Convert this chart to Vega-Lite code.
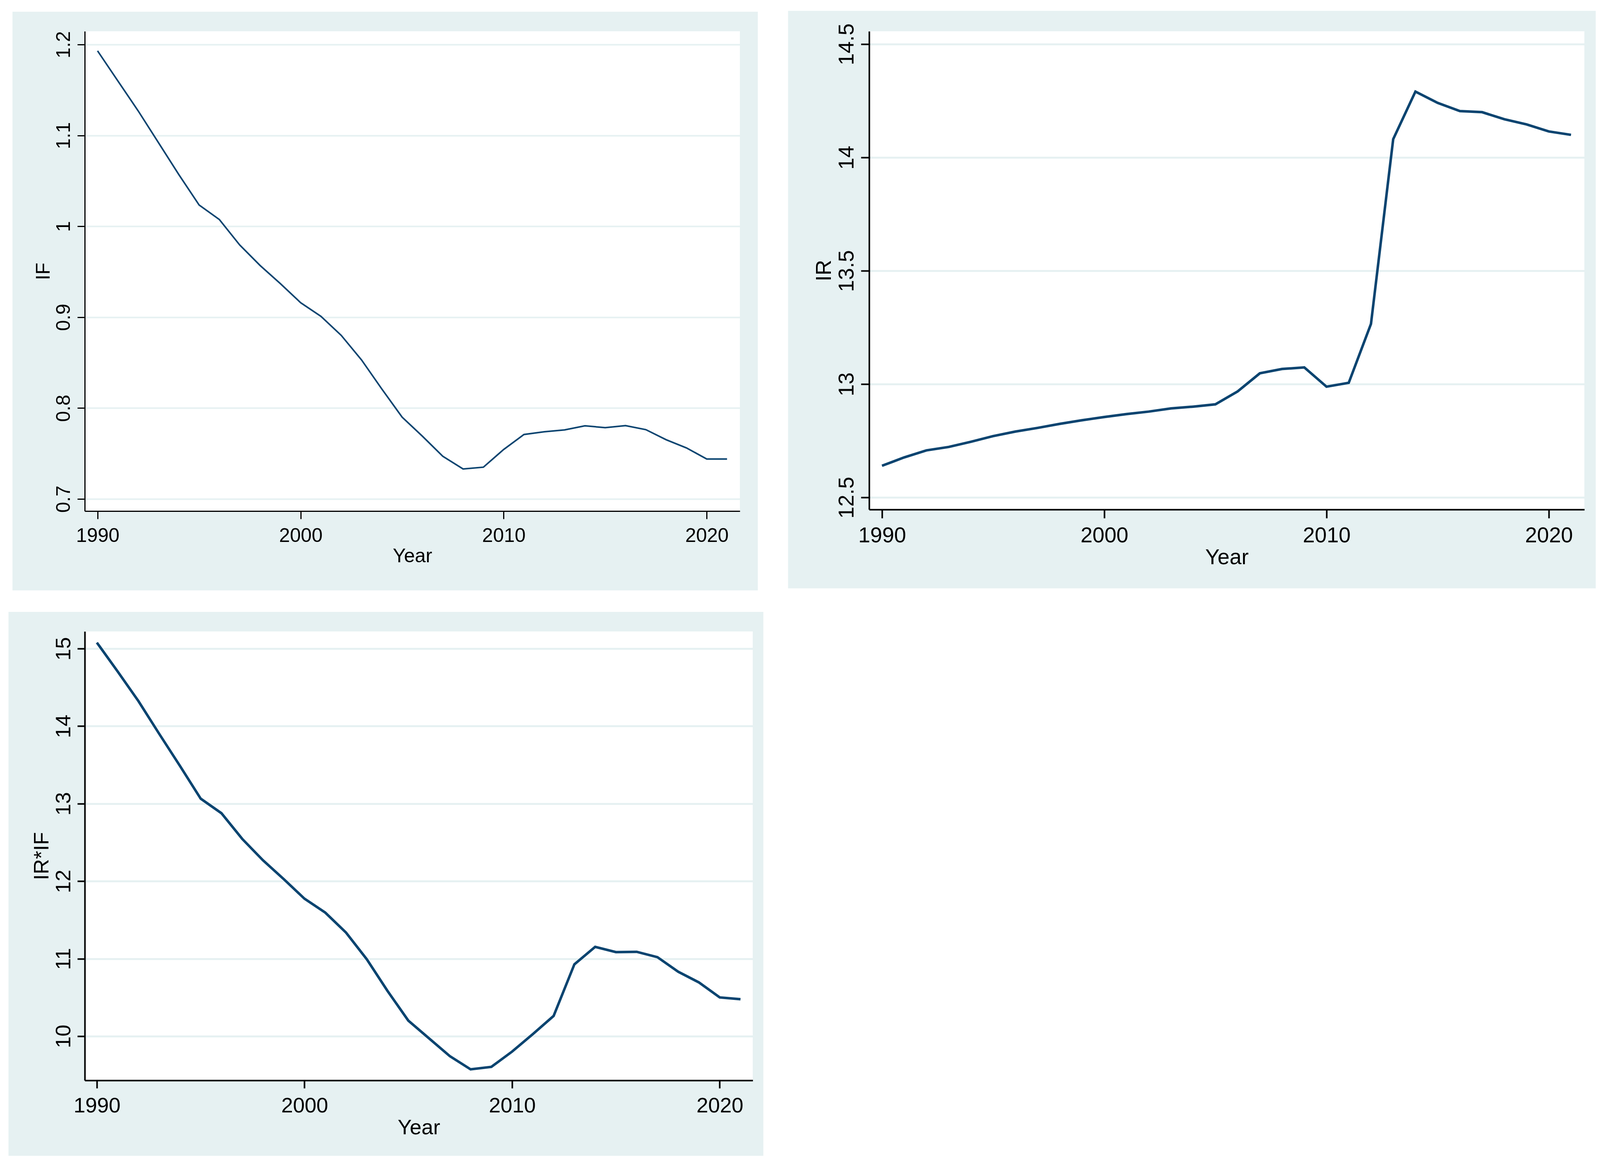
{
  "$schema": "https://vega.github.io/schema/vega-lite/v6.json",
  "background": "white",
  "padding": {"left": 21, "top": 27, "right": 0, "bottom": 0},
  "config": {"view": {"stroke": null}, "font": "Liberation Sans"},
  "data": {"values": [
    {"Year": 1990, "IF": 1.193, "IR": 12.640, "IRxIF": 15.078},
    {"Year": 1991, "IF": 1.160, "IR": 12.677, "IRxIF": 14.706},
    {"Year": 1992, "IF": 1.127, "IR": 12.708, "IRxIF": 14.324},
    {"Year": 1993, "IF": 1.092, "IR": 12.723, "IRxIF": 13.902},
    {"Year": 1994, "IF": 1.057, "IR": 12.746, "IRxIF": 13.488},
    {"Year": 1995, "IF": 1.0235, "IR": 12.771, "IRxIF": 13.065},
    {"Year": 1996, "IF": 1.0074, "IR": 12.791, "IRxIF": 12.877},
    {"Year": 1997, "IF": 0.9795, "IR": 12.807, "IRxIF": 12.546},
    {"Year": 1998, "IF": 0.957, "IR": 12.825, "IRxIF": 12.270},
    {"Year": 1999, "IF": 0.937, "IR": 12.841, "IRxIF": 12.027},
    {"Year": 2000, "IF": 0.916, "IR": 12.855, "IRxIF": 11.774},
    {"Year": 2001, "IF": 0.901, "IR": 12.868, "IRxIF": 11.595},
    {"Year": 2002, "IF": 0.880, "IR": 12.879, "IRxIF": 11.337},
    {"Year": 2003, "IF": 0.853, "IR": 12.893, "IRxIF": 10.993},
    {"Year": 2004, "IF": 0.821, "IR": 12.901, "IRxIF": 10.584},
    {"Year": 2005, "IF": 0.790, "IR": 12.911, "IRxIF": 10.202},
    {"Year": 2006, "IF": 0.769, "IR": 12.968, "IRxIF": 9.972},
    {"Year": 2007, "IF": 0.747, "IR": 13.048, "IRxIF": 9.743},
    {"Year": 2008, "IF": 0.733, "IR": 13.067, "IRxIF": 9.573},
    {"Year": 2009, "IF": 0.735, "IR": 13.074, "IRxIF": 9.605},
    {"Year": 2010, "IF": 0.7545, "IR": 12.989, "IRxIF": 9.802},
    {"Year": 2011, "IF": 0.771, "IR": 13.006, "IRxIF": 10.028},
    {"Year": 2012, "IF": 0.774, "IR": 13.266, "IRxIF": 10.262},
    {"Year": 2013, "IF": 0.776, "IR": 14.081, "IRxIF": 10.928},
    {"Year": 2014, "IF": 0.7805, "IR": 14.291, "IRxIF": 11.153},
    {"Year": 2015, "IF": 0.7785, "IR": 14.241, "IRxIF": 11.085},
    {"Year": 2016, "IF": 0.7807, "IR": 14.205, "IRxIF": 11.089},
    {"Year": 2017, "IF": 0.7763, "IR": 14.200, "IRxIF": 11.020},
    {"Year": 2018, "IF": 0.7652, "IR": 14.169, "IRxIF": 10.832},
    {"Year": 2019, "IF": 0.7562, "IR": 14.146, "IRxIF": 10.694},
    {"Year": 2020, "IF": 0.744, "IR": 14.115, "IRxIF": 10.501},
    {"Year": 2021, "IF": 0.744, "IR": 14.100, "IRxIF": 10.478}
  ]},
  "spacing": 54,
  "align": "none",
  "vconcat": [
    {
      "spacing": 76,
      "hconcat": [
        {
          "width": 1677, "height": 1228,
          "resolve": {"axis": {"x": "independent", "y": "independent"}},
          "layer": [
            {"data": {"values": [{}]}, "mark": {"type": "rect", "color": "#E6F1F2"},
             "encoding": {
               "x": {"datum": 1985.81, "type": "quantitative", "scale": {"domain": [1989.37, 2021.63], "nice": false, "zero": false}, "axis": null},
               "x2": {"datum": 1989.37},
               "y": {"datum": 0.5994, "type": "quantitative", "scale": {"domain": [0.6867, 1.2146], "nice": false, "zero": false},
                     "axis": {"orient": "left", "values": [0.7, 0.8, 0.9, 1, 1.1, 1.2], "grid": true, "gridColor": "#E6F1F2", "gridWidth": 4, "labels": false, "ticks": false, "domain": false, "title": null, "zindex": 0}},
               "y2": {"datum": 1.2361}}},
            {"data": {"values": [{}]}, "mark": {"type": "rect", "color": "#E6F1F2"},
             "encoding": {
               "x": {"datum": 2021.63, "type": "quantitative", "scale": {"domain": [1989.37, 2021.63], "nice": false, "zero": false}, "axis": null},
               "x2": {"datum": 2022.515},
               "y": {"datum": 0.5994, "type": "quantitative", "scale": {"domain": [0.6867, 1.2146], "nice": false, "zero": false}, "axis": null},
               "y2": {"datum": 1.2361}}},
            {"data": {"values": [{}]}, "mark": {"type": "rect", "color": "#E6F1F2"},
             "encoding": {
               "x": {"datum": 1989.37, "type": "quantitative", "scale": {"domain": [1989.37, 2021.63], "nice": false, "zero": false}, "axis": null},
               "x2": {"datum": 2021.63},
               "y": {"datum": 1.2146, "type": "quantitative", "scale": {"domain": [0.6867, 1.2146], "nice": false, "zero": false}, "axis": null},
               "y2": {"datum": 1.2361}}},
            {"data": {"values": [{}]}, "mark": {"type": "rect", "color": "#E6F1F2"},
             "encoding": {
               "x": {"datum": 1989.37, "type": "quantitative", "scale": {"domain": [1989.37, 2021.63], "nice": false, "zero": false}, "axis": null},
               "x2": {"datum": 2021.63},
               "y": {"datum": 0.5994, "type": "quantitative", "scale": {"domain": [0.6867, 1.2146], "nice": false, "zero": false}, "axis": null},
               "y2": {"datum": 0.6867}}},
            {"mark": {"type": "line", "color": "#0B4470", "strokeWidth": 4},
             "encoding": {
               "x": {"field": "Year", "type": "quantitative", "scale": {"domain": [1989.37, 2021.63], "nice": false, "zero": false},
                     "axis": {"orient": "bottom", "values": [1990, 2000, 2010, 2020], "format": "d", "title": "Year", "grid": false, "tickSize": 20, "tickWidth": 3, "tickColor": "black", "domainColor": "black", "domainWidth": 3, "labelFontSize": 50, "labelPadding": 18, "labelColor": "black", "labelFlush": false, "labelOverlap": false, "titleFontSize": 50, "titleFontWeight": "normal", "titleColor": "black", "titlePadding": 2, "zindex": 1}},
               "y": {"field": "IF", "type": "quantitative", "scale": {"domain": [0.6867, 1.2146], "nice": false, "zero": false},
                     "axis": {"orient": "left", "values": [0.7, 0.8, 0.9, 1, 1.1, 1.2], "format": "~g", "title": "IF", "grid": false, "tickSize": 19, "tickWidth": 3, "tickColor": "black", "domainColor": "black", "domainWidth": 3, "labelFontSize": 50, "labelAngle": 270, "labelAlign": "center", "labelBaseline": "alphabetic", "labelPadding": 20, "labelColor": "black", "labelFlush": false, "labelOverlap": false, "titleFontSize": 50, "titleFontWeight": "normal", "titleColor": "black", "titlePadding": 2, "zindex": 1}}}}
          ]
        },
        {
          "width": 1831, "height": 1224,
          "resolve": {"axis": {"x": "independent", "y": "independent"}},
          "layer": [
            {"data": {"values": [{}]}, "mark": {"type": "rect", "color": "#E6F1F2"},
             "encoding": {
               "x": {"datum": 1985.775, "type": "quantitative", "scale": {"domain": [1989.422, 2021.601], "nice": false, "zero": false}, "axis": null},
               "x2": {"datum": 1989.422},
               "y": {"datum": 12.099, "type": "quantitative", "scale": {"domain": [12.447, 14.557], "nice": false, "zero": false},
                     "axis": {"orient": "left", "values": [12.5, 13, 13.5, 14, 14.5], "grid": true, "gridColor": "#E6F1F2", "gridWidth": 5, "labels": false, "ticks": false, "domain": false, "title": null, "zindex": 0}},
               "y2": {"datum": 14.647}}},
            {"data": {"values": [{}]}, "mark": {"type": "rect", "color": "#E6F1F2"},
             "encoding": {
               "x": {"datum": 2021.601, "type": "quantitative", "scale": {"domain": [1989.422, 2021.601], "nice": false, "zero": false}, "axis": null},
               "x2": {"datum": 2022.113},
               "y": {"datum": 12.099, "type": "quantitative", "scale": {"domain": [12.447, 14.557], "nice": false, "zero": false}, "axis": null},
               "y2": {"datum": 14.647}}},
            {"data": {"values": [{}]}, "mark": {"type": "rect", "color": "#E6F1F2"},
             "encoding": {
               "x": {"datum": 1989.422, "type": "quantitative", "scale": {"domain": [1989.422, 2021.601], "nice": false, "zero": false}, "axis": null},
               "x2": {"datum": 2021.601},
               "y": {"datum": 14.557, "type": "quantitative", "scale": {"domain": [12.447, 14.557], "nice": false, "zero": false}, "axis": null},
               "y2": {"datum": 14.647}}},
            {"data": {"values": [{}]}, "mark": {"type": "rect", "color": "#E6F1F2"},
             "encoding": {
               "x": {"datum": 1989.422, "type": "quantitative", "scale": {"domain": [1989.422, 2021.601], "nice": false, "zero": false}, "axis": null},
               "x2": {"datum": 2021.601},
               "y": {"datum": 12.099, "type": "quantitative", "scale": {"domain": [12.447, 14.557], "nice": false, "zero": false}, "axis": null},
               "y2": {"datum": 12.447}}},
            {"mark": {"type": "line", "color": "#0B4470", "strokeWidth": 6.5},
             "encoding": {
               "x": {"field": "Year", "type": "quantitative", "scale": {"domain": [1989.422, 2021.601], "nice": false, "zero": false},
                     "axis": {"orient": "bottom", "values": [1990, 2000, 2010, 2020], "format": "d", "title": "Year", "grid": false, "tickSize": 22, "tickWidth": 4, "tickColor": "black", "domainColor": "black", "domainWidth": 4, "labelFontSize": 55, "labelPadding": 18, "labelColor": "black", "labelFlush": false, "labelOverlap": false, "titleFontSize": 55, "titleFontWeight": "normal", "titleColor": "black", "titlePadding": 2, "zindex": 1}},
               "y": {"field": "IR", "type": "quantitative", "scale": {"domain": [12.447, 14.557], "nice": false, "zero": false},
                     "axis": {"orient": "left", "values": [12.5, 13, 13.5, 14, 14.5], "format": "~g", "title": "IR", "grid": false, "tickSize": 21, "tickWidth": 4, "tickColor": "black", "domainColor": "black", "domainWidth": 4, "labelFontSize": 55, "labelAngle": 270, "labelAlign": "center", "labelBaseline": "alphabetic", "labelPadding": 20, "labelColor": "black", "labelFlush": false, "labelOverlap": false, "titleFontSize": 55, "titleFontWeight": "normal", "titleColor": "black", "titlePadding": 2, "zindex": 1}}}}
          ]
        }
      ]
    },
    {
      "width": 1710, "height": 1149,
      "resolve": {"axis": {"x": "independent", "y": "independent"}},
      "layer": [
        {"data": {"values": [{}]}, "mark": {"type": "rect", "color": "#E6F1F2"},
         "encoding": {
           "x": {"datum": 1985.742, "type": "quantitative", "scale": {"domain": [1989.417, 2021.59], "nice": false, "zero": false}, "axis": null},
           "x2": {"datum": 1989.417},
           "y": {"datum": 8.458, "type": "quantitative", "scale": {"domain": [9.4305, 15.222], "nice": false, "zero": false},
                 "axis": {"orient": "left", "values": [10, 11, 12, 13, 14, 15], "grid": true, "gridColor": "#E6F1F2", "gridWidth": 5, "labels": false, "ticks": false, "domain": false, "title": null, "zindex": 0}},
           "y2": {"datum": 15.474}}},
        {"data": {"values": [{}]}, "mark": {"type": "rect", "color": "#E6F1F2"},
         "encoding": {
           "x": {"datum": 2021.59, "type": "quantitative", "scale": {"domain": [1989.417, 2021.59], "nice": false, "zero": false}, "axis": null},
           "x2": {"datum": 2022.102},
           "y": {"datum": 8.458, "type": "quantitative", "scale": {"domain": [9.4305, 15.222], "nice": false, "zero": false}, "axis": null},
           "y2": {"datum": 15.474}}},
        {"data": {"values": [{}]}, "mark": {"type": "rect", "color": "#E6F1F2"},
         "encoding": {
           "x": {"datum": 1989.417, "type": "quantitative", "scale": {"domain": [1989.417, 2021.59], "nice": false, "zero": false}, "axis": null},
           "x2": {"datum": 2021.59},
           "y": {"datum": 15.222, "type": "quantitative", "scale": {"domain": [9.4305, 15.222], "nice": false, "zero": false}, "axis": null},
           "y2": {"datum": 15.474}}},
        {"data": {"values": [{}]}, "mark": {"type": "rect", "color": "#E6F1F2"},
         "encoding": {
           "x": {"datum": 1989.417, "type": "quantitative", "scale": {"domain": [1989.417, 2021.59], "nice": false, "zero": false}, "axis": null},
           "x2": {"datum": 2021.59},
           "y": {"datum": 8.458, "type": "quantitative", "scale": {"domain": [9.4305, 15.222], "nice": false, "zero": false}, "axis": null},
           "y2": {"datum": 9.4305}}},
        {"mark": {"type": "line", "color": "#0B4470", "strokeWidth": 6.5},
         "encoding": {
           "x": {"field": "Year", "type": "quantitative", "scale": {"domain": [1989.417, 2021.59], "nice": false, "zero": false},
                 "axis": {"orient": "bottom", "values": [1990, 2000, 2010, 2020], "format": "d", "title": "Year", "grid": false, "tickSize": 20, "tickWidth": 4, "tickColor": "black", "domainColor": "black", "domainWidth": 4, "labelFontSize": 54, "labelPadding": 18, "labelColor": "black", "labelFlush": false, "labelOverlap": false, "titleFontSize": 54, "titleFontWeight": "normal", "titleColor": "black", "titlePadding": 2, "zindex": 1}},
           "y": {"field": "IRxIF", "type": "quantitative", "scale": {"domain": [9.4305, 15.222], "nice": false, "zero": false},
                 "axis": {"orient": "left", "values": [10, 11, 12, 13, 14, 15], "format": "~g", "title": "IR*IF", "grid": false, "tickSize": 19, "tickWidth": 4, "tickColor": "black", "domainColor": "black", "domainWidth": 4, "labelFontSize": 54, "labelAngle": 270, "labelAlign": "center", "labelBaseline": "alphabetic", "labelPadding": 19, "labelColor": "black", "labelFlush": false, "labelOverlap": false, "titleFontSize": 54, "titleFontWeight": "normal", "titleColor": "black", "titlePadding": 2, "zindex": 1}}}}
      ]
    }
  ]
}
